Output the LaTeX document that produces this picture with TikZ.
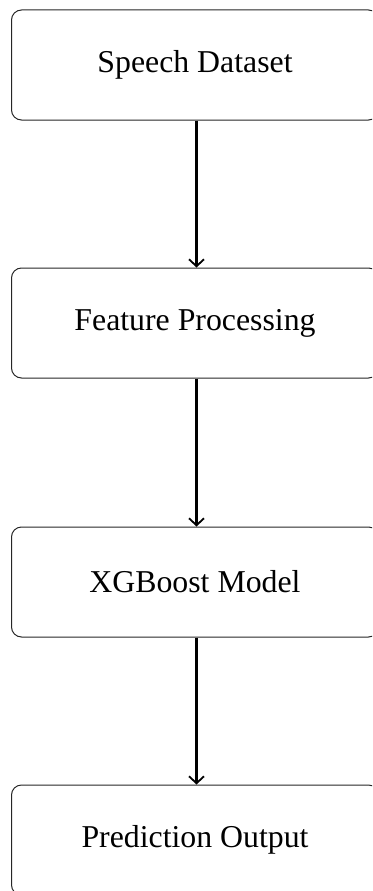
\documentclass[tikz,border=0pt]{standalone}
\usepackage{fontspec}
\setmainfont{Liberation Serif}
\usetikzlibrary{arrows.meta}
\begin{document}
\begin{tikzpicture}[x=1pt,y=1pt,
  stagebox/.style={draw=black!85, line width=1pt, rounded corners=10pt, rectangle,
    minimum width=367pt, minimum height=110pt, inner sep=0pt,
    font=\fontsize{31.8}{36}\selectfont},
  flow/.style={draw=black, line width=2.2pt, -{Straight Barb[length=7pt,width=15pt,line width=1.8pt]}}]
\useasboundingbox (0,0) rectangle (372,-891);
\clip (0,0) rectangle (372,-891);
\node[stagebox] (a) at (195,-65) {Speech Dataset};
\node[stagebox] (b) at (195,-323) {Feature Processing};
\node[stagebox] (c) at (195,-582) {XGBoost Model};
\node[stagebox] (d) at (195,-840) {Prediction Output};
\draw[flow] (a.south -| 196.5,0) -- (b.north -| 196.5,0);
\draw[flow] (b.south -| 196.5,0) -- (c.north -| 196.5,0);
\draw[flow] (c.south -| 196.5,0) -- (d.north -| 196.5,0);
\end{tikzpicture}
\end{document}
